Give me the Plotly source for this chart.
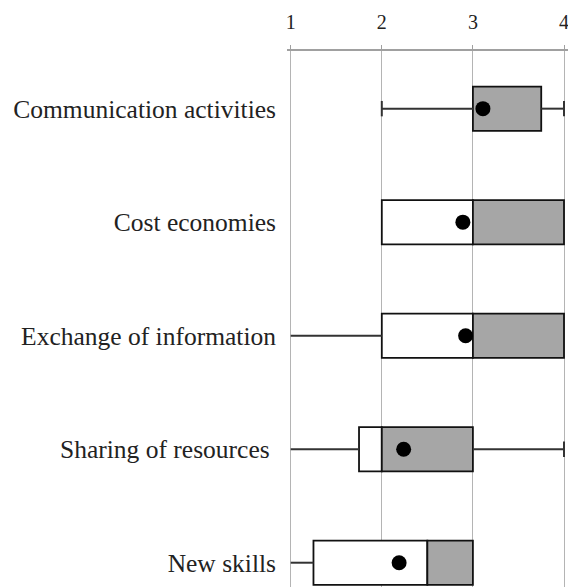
import plotly.graph_objects as go

categories = ["Communication activities", "Cost economies", "Exchange of information",
              "Sharing of resources\u00a0", "New skills"]
minimum = [2, 2, 1, 1, 1]
q1 = [3, 2, 2, 1.75, 1.25]
median = [3, 3, 3, 2, 2.5]
q3 = [3.75, 4, 4, 3, 3]
maximum = [4, 4, 4, 4, 3]
mean = [3.11, 2.89, 2.92, 2.24, 2.19]
x_ticks = [1, 2, 3, 4]

pos = list(range(len(categories)))
BOX_W = 0.39

fig = go.Figure()

# whiskers
wx, wy, cx, cy = [], [], [], []
for i in pos:
    if minimum[i] < q1[i]:
        wx += [minimum[i], q1[i], None]
        wy += [i, i, None]
        if minimum[i] > x_ticks[0]:
            cx.append(minimum[i]); cy.append(i)
    if maximum[i] > q3[i]:
        wx += [q3[i], maximum[i], None]
        wy += [i, i, None]
        cx.append(maximum[i]); cy.append(i)
fig.add_trace(go.Scatter(x=wx, y=wy, mode="lines", line={"color": "#333333", "width": 2},
                         hoverinfo="skip", cliponaxis=False))
fig.add_trace(go.Scatter(x=cx, y=cy, mode="markers", cliponaxis=False, hoverinfo="skip",
                         marker={"symbol": "line-ns", "size": 11, "line": {"color": "#333333", "width": 2}}))

# lower half of box (q1 -> median), white
fig.add_trace(go.Bar(y=pos, x=[m - a for m, a in zip(median, q1)], base=q1, orientation="h",
                     width=BOX_W, marker={"color": "#ffffff", "line": {"color": "#111111", "width": 1.8}}))
# upper half of box (median -> q3), gray
fig.add_trace(go.Bar(y=pos, x=[b - m for b, m in zip(q3, median)], base=median, orientation="h",
                     width=BOX_W, marker={"color": "#a6a6a6", "line": {"color": "#111111", "width": 1.8}}))

# means
fig.add_trace(go.Scatter(x=mean, y=pos, mode="markers", cliponaxis=False,
                         marker={"color": "#000000", "size": 15}))

fig.update_layout(
    width=568, height=587,
    barmode="overlay", showlegend=False,
    paper_bgcolor="#ffffff", plot_bgcolor="#ffffff",
    font={"family": "Liberation Serif, Times New Roman, serif", "color": "#222222"},
    margin={"l": 287, "r": 0, "t": 51, "b": 0},
)
fig.update_xaxes(side="top", range=[0.9594, 4.0439], tickvals=x_ticks, ticktext=[str(t) for t in x_ticks],
                 showgrid=True, gridcolor="#b4b4b4", gridwidth=1, zeroline=False,
                 showline=True, linecolor="#a0a0a0", linewidth=1.5,
                 ticks="outside", ticklen=4, tickcolor="#a0a0a0", ticklabelstandoff=8,
                 ticklabeloverflow="allow", tickfont={"size": 20, "color": "#222222"})
fig.update_yaxes(range=[4.214, -0.508], tickvals=pos, ticktext=categories, showgrid=False,
                 zeroline=False, showline=False, ticks="", ticklabelstandoff=10,
                 tickfont={"size": 25.5, "color": "#222222"})

fig.write_html("out.html", config={"displayModeBar": False},
               post_script="document.body.style.margin='0px';")
